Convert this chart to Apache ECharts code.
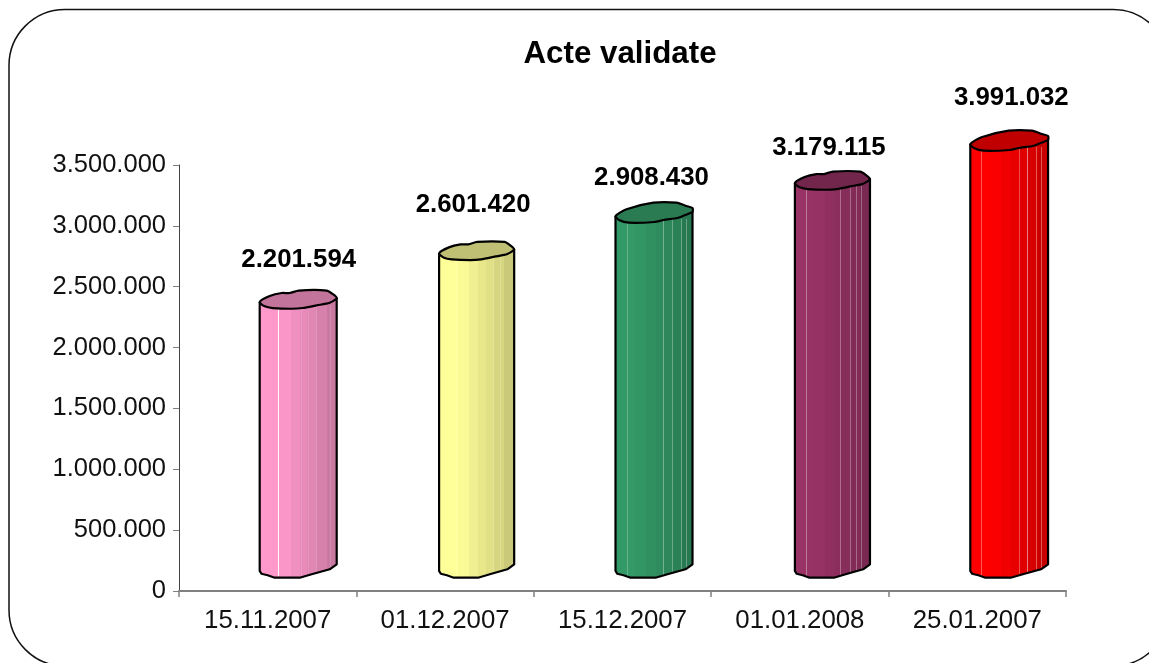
<!DOCTYPE html>
<html>
<head>
<meta charset="utf-8">
<title>Acte validate</title>
<style>
  html, body { margin: 0; padding: 0; background: #fff; }
  #chart { width: 1149px; height: 663px; }
</style>
<script src="https://cdn.jsdelivr.net/npm/echarts@6/dist/echarts.min.js"></script>
</head>
<body>
<div id="chart"></div>
<script>
const categories = ['15.11.2007', '01.12.2007', '15.12.2007', '01.01.2008', '25.01.2007'];
const values = [2201594, 2601420, 2908430, 3179115, 3991032];
const axisMax = 3500000;
const axisStep = 500000;

// look of each cylinder
const bodyColors = ['#ff99cc', '#ffff99', '#339966', '#993366', '#ff0000'];
const lidColors = ['#c2749b', '#c0c074', '#2a7a52', '#72264c', '#c00000'];
const ribs = [
  [[18, 0.95], [41, 0.12], [48, 0.12], [56, 0.18], [70, 0.15]],
  [[17, 0.12], [36, 0.12], [55, 0.15], [62, 0.2]],
  [[11, 0.25], [47, 0.35], [56, 0.3], [65, 0.3], [70, 0.3]],
  [[11, 0.35], [46, 0.3], [56, 0.3], [63, 0.3], [68, 0.3]],
  [[11, 0.35], [48, 0.3], [56, 0.5], [65, 0.35], [70, 0.35]]
];
const barShift = [-8, -6, -7, -5, -7];
const barScale = [1, 0.975, 1, 0.975, 1.01];
const labelLift = [63, 69, 59, 56, 67];
const labelShift = [31, 28, 29, 29, 34];

// outlines relative to the left corner of the lid / the base
const lidA = [[0, 0], [10, -6], [22, -9], [30, -9], [39, -11.5], [67, -11.5], [73, -8], [77, -4],
  [70, 0.7], [57, 3.3], [43, 6], [32, 6.7], [13, 6], [5, 4.3]];
const lidB = [[0, 0], [11, -6.7], [38, -13.3], [61, -13.3], [71, -10], [77, -8], [77, -4],
  [73, -2.3], [63, 1.7], [48, 4], [39, 6], [13, 6.7], [4, 4.3]];
const lidShapes = [lidA, lidA, lidB, lidA, lidB];
const baseEdge = [[77, -6.7], [70, -1.7], [52, 3.3], [40, 6.7], [15, 6.7], [8, 4.3], [1.7, 2.7], [0, 0]];

const bandStops = [0, 0.13, 0.25, 0.4, 0.52, 0.62, 0.73, 0.87, 1];
const bandShade = [1, 1, 0.98, 0.94, 0.91, 0.88, 0.84, 0.79];

function shade(hex, k) {
  const n = parseInt(hex.slice(1), 16);
  const r = Math.round(((n >> 16) & 255) * k);
  const g = Math.round(((n >> 8) & 255) * k);
  const b = Math.round((n & 255) * k);
  return `rgb(${r},${g},${b})`;
}

function bodyFill(hex) {
  const colorStops = [];
  bandShade.forEach((k, i) => {
    colorStops.push({ offset: bandStops[i], color: shade(hex, k) });
    colorStops.push({ offset: bandStops[i + 1], color: shade(hex, k) });
  });
  return new echarts.graphic.LinearGradient(0, 0, 1, 0, colorStops);
}

function renderCylinder(params, api) {
  const i = params.dataIndex;
  const value = api.value(1);
  const top = api.coord([i, Math.min(value, axisMax)]);
  const zero = api.coord([i, 0]);
  const x = top[0] + barShift[i];
  const sx = barScale[i];
  const yTop = top[1] - 21;
  const yBase = zero[1] - 20;

  const lid = lidShapes[i].map((p) => [x + p[0] * sx, yTop + p[1]]);
  const base = baseEdge.map((p) => [x + p[0] * sx, yBase + p[1]]);
  const body = [[x, yTop], [x + 77 * sx, yTop - 4]].concat(base);

  const children = [{
    type: 'polygon',
    shape: { points: body },
    style: { fill: bodyFill(bodyColors[i]), stroke: null }
  }];
  ribs[i].forEach((r) => {
    const rx = Math.round(x + r[0] * sx) + 0.5;
    children.push({
      type: 'line',
      shape: { x1: rx, y1: yTop + 3, x2: rx, y2: yBase + 5 },
      style: { stroke: `rgba(255,255,255,${r[1]})`, lineWidth: 1 }
    });
  });
  children.push({
    type: 'polyline',
    shape: { points: body.concat([[x, yTop]]) },
    style: { fill: null, stroke: '#000', lineWidth: 2.2, lineJoin: 'round' }
  });
  children.push({
    type: 'polygon',
    shape: { points: lid, smooth: 0.25 },
    style: { fill: lidColors[i], stroke: '#000', lineWidth: 2.2, lineJoin: 'round' }
  });
  children.push({
    type: 'text',
    style: {
      x: top[0] + labelShift[i],
      y: top[1] - labelLift[i],
      text: String(value).replace(/\B(?=(\d{3})+$)/g, '.'),
      align: 'center',
      verticalAlign: 'middle',
      fontFamily: '"Liberation Sans", Arial, sans-serif',
      fontWeight: 'bold',
      fontSize: 25.8,
      fill: '#000'
    }
  });
  return { type: 'group', children };
}

const chart = echarts.init(document.getElementById('chart'));
chart.setOption({
  animation: false,
  backgroundColor: '#fff',
  textStyle: { fontFamily: '"Liberation Sans", Arial, sans-serif' },
  title: {
    text: 'Acte validate',
    left: 615,
    top: 34,
    textAlign: 'center',
    textStyle: { color: '#000', fontSize: 31.3, fontWeight: 'bold', fontFamily: '"Liberation Sans", Arial, sans-serif' }
  },
  grid: { left: 179, right: 83, top: 165, bottom: 72 },
  xAxis: {
    type: 'category',
    data: categories,
    axisLine: { lineStyle: { color: '#808080', width: 2 } },
    axisTick: { show: true, length: 6, lineStyle: { color: '#808080', width: 1.5 } },
    axisLabel: { color: '#111', fontSize: 25.8, margin: 17, interval: 0 }
  },
  yAxis: {
    type: 'value',
    min: 0,
    max: axisMax,
    interval: axisStep,
    axisLine: { show: true, lineStyle: { color: '#444', width: 1 } },
    axisTick: { show: true, length: 6, lineStyle: { color: '#808080', width: 1 } },
    axisLabel: {
      color: '#111',
      fontSize: 25.5,
      margin: 13,
      formatter: (v) => String(v).replace(/\B(?=(\d{3})+$)/g, '.')
    },
    splitLine: { show: false }
  },
  graphic: [{
    type: 'rect',
    z: -1,
    shape: { x: 9, y: 9.5, width: 1160, height: 656.5, r: 56 },
    style: { fill: null, stroke: '#111', lineWidth: 1.5 }
  }],
  series: [{
    type: 'custom',
    renderItem: renderCylinder,
    data: values.map((v, i) => [i, v]),
    clip: false
  }]
});
</script>
</body>
</html>
